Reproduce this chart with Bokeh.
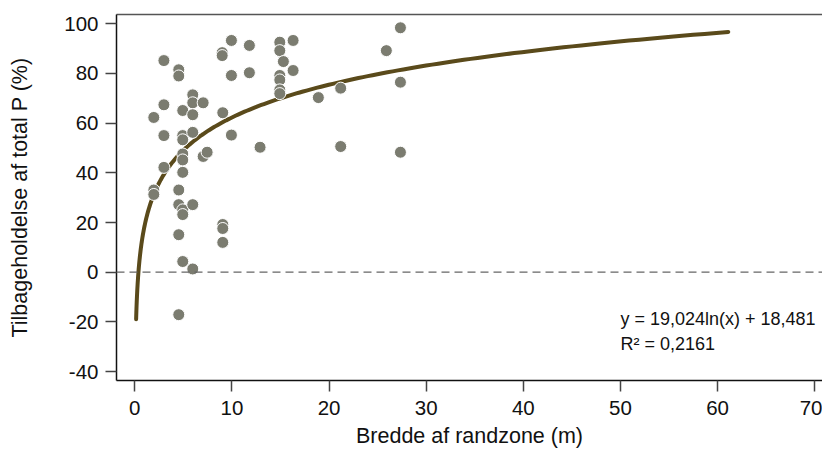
from bokeh.plotting import figure
from bokeh.models import Span, LinearAxis, FixedTicker, Range1d, ColumnDataSource
from bokeh.core.properties import value
from bokeh.embed import file_html
from bokeh.resources import INLINE
import numpy as np

# Data: width of buffer zone (m) and total P retention (%)
width_m = [1.96, 1.96, 1.96,
           3.0, 3.0, 3.0, 3.0,
           4.53, 4.53, 4.53, 4.53, 4.53, 4.53,
           4.94, 4.94, 4.94, 4.94, 4.94, 4.94, 4.94, 4.94, 4.94,
           5.97, 5.97, 5.97, 5.97, 5.97, 5.97,
           7.04, 7.04, 7.45,
           9.0, 9.0, 9.06, 9.06, 9.06, 9.06,
           9.95, 9.95, 9.95,
           11.8, 11.8,
           12.9,
           14.93, 14.93, 15.3, 14.93, 14.93, 14.93, 14.93,
           16.3, 16.3,
           18.9,
           21.2, 21.2,
           25.9,
           27.35, 27.35, 27.35]
retention_pct = [62.3, 33.1, 31.3,
                 85.2, 67.4, 55.0, 42.2,
                 81.5, 79.0, 33.1, 27.2, 15.1, -17.1,
                 65.1, 55.0, 53.3, 47.6, 45.2, 40.2, 25.1, 23.2, 4.3,
                 71.4, 68.2, 63.4, 56.3, 27.2, 1.3,
                 68.2, 46.6, 48.3,
                 88.4, 87.2, 64.2, 19.2, 17.6, 12.0,
                 93.3, 79.2, 55.2,
                 91.3, 80.3,
                 50.3,
                 92.6, 89.2, 84.8, 79.2, 77.4, 73.4, 71.9,
                 93.3, 81.2,
                 70.3,
                 74.1, 50.6,
                 89.2,
                 98.4, 76.5, 48.3]

# Logarithmic trend line shown in the chart
trend_a = 19.024
trend_b = 18.481
trend_x_min = 0.14
trend_x_max = 61.1

x_ticks = [0, 10, 20, 30, 40, 50, 60, 70]
y_ticks = [-40, -20, 0, 20, 40, 60, 80, 100]
y_tick_labels = {-40: "-40", -20: "-20", 0: "0", 20: "20", 40: "40",
                 60: "60", 80: "80", 100: "100"}

eq_text = ["y = 19,024ln(x) + 18,481", "R\u00b2 = 0,2161"]
eq_x = [50.0, 50.0]
eq_y = [-18.9, -29.0]

FONT = "Liberation Sans"

p = figure(width=822, height=452, output_backend="svg", toolbar_location=None,
           x_range=Range1d(-1.88, 70.8), y_range=Range1d(-43.6, 103.75),
           min_border_left=116, min_border_top=14, min_border_right=0,
           min_border_bottom=72)
p.outline_line_color = None
p.xgrid.visible = False
p.ygrid.visible = False
p.background_fill_color = "white"
p.border_fill_color = "white"

for ax, ticks in ((p.xaxis[0], x_ticks), (p.yaxis[0], y_ticks)):
    ax.ticker = FixedTicker(ticks=ticks)
    ax.minor_tick_line_color = None
    ax.major_tick_in = 0
    ax.major_tick_out = 11
    ax.major_tick_line_color = "#444444"
    ax.major_tick_line_width = 1.5
    ax.axis_line_color = "#111111"
    ax.axis_line_width = 1.5
    ax.major_label_text_font = FONT
    ax.major_label_text_font_size = "20.5px"
    ax.major_label_text_color = "#111111"
    ax.axis_label_text_font = FONT
    ax.axis_label_text_font_size = "21.5px"
    ax.axis_label_text_font_style = "normal"
    ax.axis_label_text_color = "#111111"

p.xaxis[0].axis_label = "Bredde af randzone (m)"
p.yaxis[0].axis_label = "Tilbageholdelse af total P (%)"
p.yaxis[0].major_label_overrides = y_tick_labels
p.xaxis[0].major_label_standoff = 9
p.yaxis[0].major_label_standoff = 7
p.xaxis[0].axis_label_standoff = 6
p.yaxis[0].axis_label_standoff = 29

top_axis = LinearAxis(ticker=FixedTicker(ticks=[]), major_tick_line_color=None,
                      minor_tick_line_color=None, axis_line_color="#555555",
                      axis_line_width=1.5, major_label_text_font_size="0px")
p.add_layout(top_axis, "above")

zero = Span(location=0, dimension="width", line_color="#666666",
            line_width=1.3, line_dash="8 5")
p.add_layout(zero)

tx = np.linspace(np.log(trend_x_min), np.log(trend_x_max), 300)
tx = np.exp(tx)
ty = trend_a * np.log(tx) + trend_b
p.line(tx, ty, line_color="#5a4a1b", line_width=4, line_cap="round")

src = ColumnDataSource(data=dict(x=width_m, y=retention_pct))
p.scatter("x", "y", source=src, size=12, fill_color="#7b7c70",
          line_color="white", line_width=1)

p.text(x=eq_x, y=eq_y, text=eq_text, text_font=value(FONT),
       text_font_size="18px", text_baseline="middle", text_align="left",
       text_color="#111111")

open("out.html", "w").write(file_html(p, INLINE))
